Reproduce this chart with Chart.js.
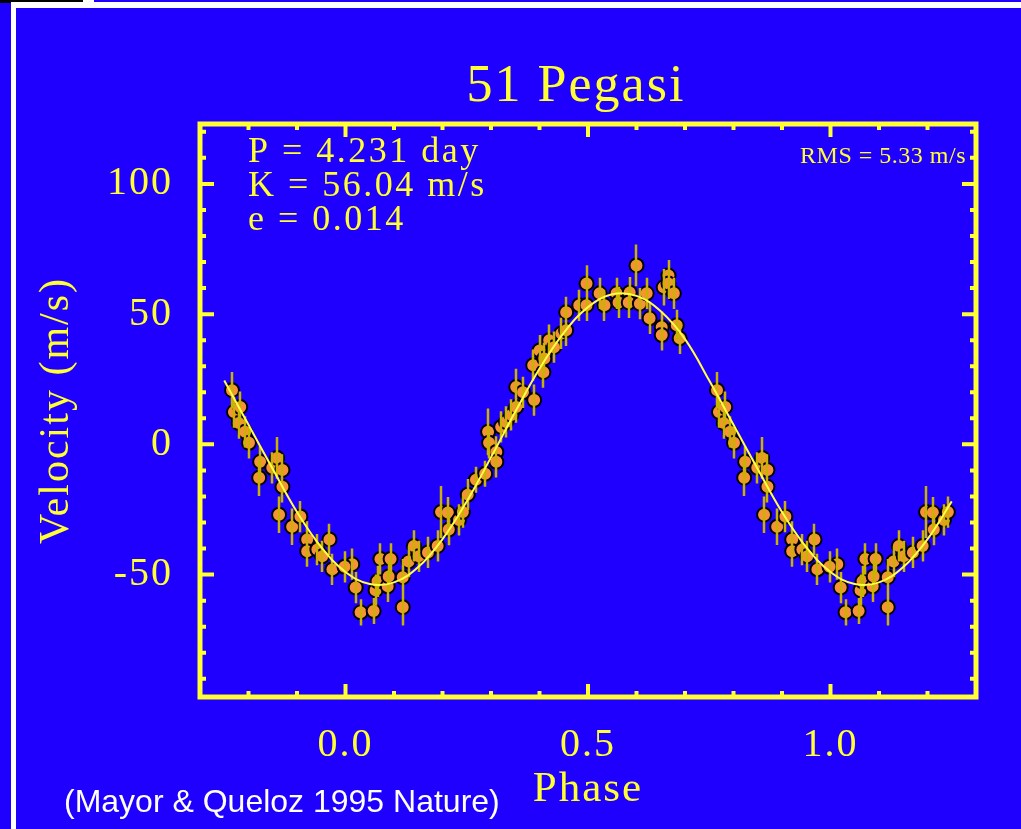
<!DOCTYPE html>
<html>
<head>
<meta charset="utf-8">
<title>51 Pegasi</title>
<script src="https://cdn.jsdelivr.net/npm/chart.js@4.4.1/dist/chart.umd.min.js"></script>
<style>
  html, body { margin: 0; padding: 0; background: #1f00ff; overflow: hidden; }
  #wrap { position: relative; width: 1021px; height: 829px; }
  canvas { position: absolute; left: 0; top: 0; }
  .edge { position: absolute; background: #fff; }
</style>
</head>
<body>
<div id="wrap">
  <div class="edge" style="left:0;top:0;width:83px;height:3px;background:#000"></div>
  <div class="edge" style="left:11px;top:2px;width:1010px;height:6px"></div>
  <div class="edge" style="left:83px;top:0;width:11px;height:8px"></div>
  <div class="edge" style="left:11px;top:2px;width:5px;height:827px"></div>
  <canvas id="chart" width="1021" height="829"></canvas>
</div>
<script>
// measured radial velocities, folded on the orbital period
const phase = [
  0.014, 0.021, 0.031, 0.058, 0.062, 0.066, 0.072, 0.087, 0.089, 0.093,
  0.118, 0.118, 0.130, 0.141, 0.151, 0.170, 0.190, 0.197, 0.211, 0.213,
  0.234, 0.242, 0.252, 0.269, 0.288, 0.294, 0.296, 0.311, 0.311, 0.321,
  0.331, 0.342, 0.352, 0.352, 0.366, 0.389, 0.387, 0.400, 0.408, 0.410,
  0.420, 0.430, 0.445, 0.455, 0.455, 0.482, 0.497, 0.497, 0.524, 0.534,
  0.559, 0.563, 0.586, 0.584, 0.600, 0.607, 0.621, 0.627, 0.652, 0.652,
  0.656, 0.666, 0.666, 0.677, 0.683, 0.689, 0.766, 0.770, 0.783, 0.780,
  0.793, 0.801, 0.824, 0.822, 0.849, 0.859, 0.870, 0.870, 0.863, 0.890,
  0.907, 0.921, 0.921, 0.942, 0.952, 0.967, 0.973, 0.998
];
const velocity = [
  -46, -55, -64.5, -64, -56, -52.6, -44, -54.5, -50.7, -44,
  -62.5, -51, -45, -39, -43, -41.5, -39, -26, -26.2, -32.7,
  -29, -26, -19.3, -13.6, -11.3, 4.8, 0.6, -2.9, -6.7, 6.7,
  8.6, 11.3, 14.3, 22, 20, 17, 30.4, 36, 27.7, 33,
  40, 37.3, 42.6, 43.8, 50.7, 53.4, 53.4, 61.8, 58, 53.4,
  58, 54.5, 58.3, 54.5, 68.7, 54, 58, 48.4, 45, 42,
  60.3, 64.8, 61.8, 58, 45.7, 40.7, 20.8, 12.4, 14.3, 8.2,
  4.8, 0.6, -6.7, -12.8, -9, -5.2, -9.8, -16.3, -27, -31.6,
  -27.7, -36.5, -41, -40.4, -43, -36.5, -48, -47
];
const velocityError = [
  6, 6, 5, 5, 6, 6, 6, 6, 6, 6,
  7, 7, 6, 6, 6, 6, 6, 10, 6, 6,
  6, 6, 6, 5, 5, 9, 6, 6, 6, 6,
  6, 6, 6, 7, 6, 6, 6, 6, 6, 6,
  6, 6, 6, 6, 6, 6, 6, 7, 6, 6,
  6, 6, 6, 6, 8, 6, 6, 6, 6, 6,
  7, 6, 6, 6, 6, 6, 7, 6, 6, 6,
  6, 6, 6, 7, 6, 8, 6, 6, 7, 7,
  6, 7, 6, 6, 6, 6, 6, 6
];

// orbital fit
const fitPhase = [
  -0.25, -0.20, -0.15, -0.10, -0.05, 0.00, 0.05, 0.10, 0.15, 0.20,
  0.25, 0.30, 0.35, 0.40, 0.45, 0.50, 0.55, 0.60, 0.65, 0.70,
  0.75, 0.80, 0.85, 0.90, 0.95, 1.00, 1.05, 1.10, 1.15, 1.20, 1.25
];
const fitVelocity = [
  24.5, 7.5, -9.5, -26, -39.5, -49, -53.6, -53, -47.1, -36.4,
  -21.9, -5, 12.5, 29, 42.8, 52.7, 57.6, 57, 51.1, 40.4,
  24.5, 7.5, -9.5, -26, -39.5, -49, -53.6, -53, -47.1, -36.4, -21.9
];

const xTickValues = [0.0, 0.5, 1.0];
const yTickValues = [-50, 0, 50, 100];
const titleText = '51 Pegasi';
const orbitLines = ['P = 4.231 day', 'K = 56.04 m/s', 'e = 0.014'];
const rmsText = 'RMS = 5.33 m/s';
const creditText = '(Mayor & Queloz 1995 Nature)';

const YELLOW = '#ffff33';
const ORANGE = '#f7923a';
const BAR = '#c8b400';
const FIT = '#ffff44';
const SERIF = "'Liberation Serif', 'DejaVu Serif', serif";
const SANS = "'Liberation Sans', Arial, sans-serif";

// show the phase range -0.25 .. 1.25, repeating the ends
const points = [];
phase.forEach((p, i) => {
  const d = { x: p, y: velocity[i], err: velocityError[i] };
  points.push(d);
  if (p <= 0.25) points.push({ ...d, x: p + 1 });
  if (p >= 0.75) points.push({ ...d, x: p - 1 });
});
const fitData = fitPhase.map((p, i) => ({ x: p, y: fitVelocity[i] }));

// the old plot font is wide, so spread the letters a little
const spacingPlugin = {
  id: 'spacing',
  beforeLayout(chart) { chart.ctx.letterSpacing = '2px'; },
  beforeDraw(chart) { chart.ctx.letterSpacing = '2px'; }
};

// yellow box with inward tick marks on all four sides
const framePlugin = {
  id: 'frame',
  beforeDatasetsDraw(chart) {
    const { ctx, chartArea: a, scales: { x, y } } = chart;
    ctx.save();
    ctx.strokeStyle = YELLOW;
    ctx.lineWidth = 4;
    ctx.beginPath();
    for (let i = -3; i <= 13; i++) {
      const px = x.getPixelForValue(i / 10);
      const len = xTickValues.includes(i / 10) ? 13 : 6;
      ctx.moveTo(px, a.bottom); ctx.lineTo(px, a.bottom - len);
      ctx.moveTo(px, a.top); ctx.lineTo(px, a.top + len);
    }
    for (let v = -90; v <= 120; v += 10) {
      const py = y.getPixelForValue(v);
      const len = yTickValues.includes(v) ? 14 : 6;
      ctx.moveTo(a.left, py); ctx.lineTo(a.left + len, py);
      ctx.moveTo(a.right, py); ctx.lineTo(a.right - len, py);
    }
    ctx.stroke();
    ctx.lineWidth = 5;
    ctx.strokeRect(a.left, a.top, a.width, a.height);
    ctx.restore();
  }
};

// error bars drawn right after the points, under the fit line
const errorBarPlugin = {
  id: 'errorBars',
  afterDatasetDraw(chart, args) {
    if (args.index !== 1) return;
    const { ctx, scales: { x, y } } = chart;
    ctx.save();
    ctx.strokeStyle = BAR;
    ctx.lineWidth = 2.5;
    ctx.beginPath();
    points.forEach(d => {
      const px = Math.round(x.getPixelForValue(d.x));
      ctx.moveTo(px, y.getPixelForValue(d.y + d.err));
      ctx.lineTo(px, y.getPixelForValue(d.y - d.err));
    });
    ctx.stroke();
    ctx.restore();
  }
};

const textPlugin = {
  id: 'texts',
  afterDraw(chart) {
    const { ctx } = chart;
    ctx.save();
    ctx.fillStyle = YELLOW;
    ctx.textBaseline = 'alphabetic';
    ctx.textAlign = 'center';
    ctx.letterSpacing = '2px';
    ctx.font = `52px ${SERIF}`;
    ctx.fillText(titleText, 576, 101);

    ctx.textAlign = 'left';
    ctx.letterSpacing = '2.5px';
    ctx.font = `36px ${SERIF}`;
    orbitLines.forEach((t, i) => ctx.fillText(t, 248, 162 + i * 34));

    ctx.textAlign = 'right';
    ctx.letterSpacing = '0.5px';
    ctx.font = `24px ${SERIF}`;
    ctx.fillText(rmsText, 966, 163);

    ctx.textAlign = 'left';
    ctx.letterSpacing = '0px';
    ctx.fillStyle = '#ffffff';
    ctx.font = `32px ${SANS}`;
    ctx.fillText(creditText, 64, 812);
    ctx.restore();
  }
};

new Chart(document.getElementById('chart'), {
  type: 'scatter',
  data: {
    datasets: [
      {
        type: 'line',
        data: fitData,
        borderColor: FIT,
        borderWidth: 2,
        pointRadius: 0,
        tension: 0.4,
        fill: false,
        order: 0
      },
      {
        data: points,
        backgroundColor: ORANGE,
        borderColor: '#000000',
        borderWidth: 2,
        pointRadius: 7,
        order: 1
      }
    ]
  },
  options: {
    responsive: false,
    animation: false,
    devicePixelRatio: 1,
    layout: { padding: { top: 124, right: 45, left: 0, bottom: 0 } },
    plugins: { legend: { display: false }, tooltip: { enabled: false } },
    scales: {
      x: {
        type: 'linear',
        min: -0.3,
        max: 1.3,
        afterFit: s => { s.height = 132; },
        grid: { display: false, drawTicks: false },
        border: { display: false },
        ticks: {
          stepSize: 0.5,
          includeBounds: false,
          maxRotation: 0,
          padding: 24,
          color: YELLOW,
          font: { family: SERIF, size: 40 },
          callback: v => v.toFixed(1)
        },
        title: {
          display: true,
          text: 'Phase',
          color: YELLOW,
          font: { family: SERIF, size: 43 },
          padding: { top: 0, bottom: 13 }
        }
      },
      y: {
        type: 'linear',
        min: -97,
        max: 123,
        afterFit: s => { s.width = 200; },
        grid: { display: false, drawTicks: false },
        border: { display: false },
        ticks: {
          stepSize: 50,
          includeBounds: false,
          padding: 27,
          color: YELLOW,
          font: { family: SERIF, size: 40 },
          callback: v => String(v)
        },
        title: {
          display: true,
          text: 'Velocity (m/s)',
          color: YELLOW,
          font: { family: SERIF, size: 42 },
          padding: { top: 32, bottom: 0 }
        }
      }
    }
  },
  plugins: [spacingPlugin, framePlugin, errorBarPlugin, textPlugin]
});
</script>
</body>
</html>
